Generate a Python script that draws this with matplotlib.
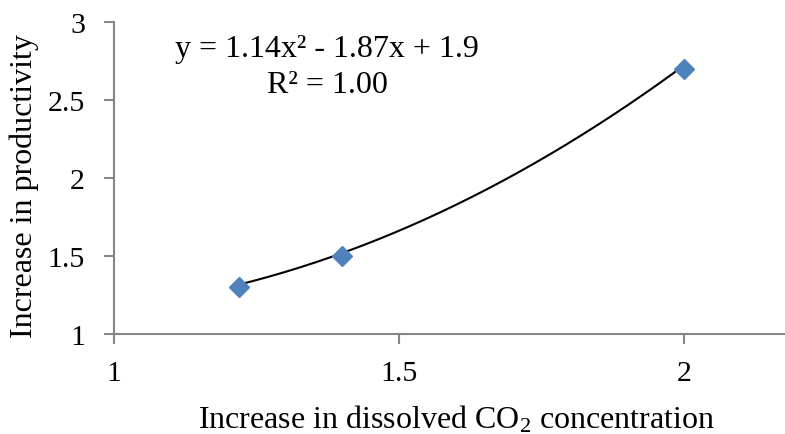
import matplotlib
matplotlib.use('Agg')
import matplotlib.pyplot as plt
import numpy as np

plt.rcParams['font.family'] = ['Liberation Serif', 'DejaVu Serif']
plt.rcParams['mathtext.fontset'] = 'custom'
plt.rcParams['mathtext.rm'] = 'Liberation Serif'
plt.rcParams['mathtext.it'] = 'Liberation Serif:italic'

# measured points
co2_increase = [1.22, 1.4, 2.0]
productivity_increase = [1.3, 1.5, 2.7]

# polynomial trendline coefficients (a, b, c) for y = a x^2 + b x + c
trend_coef = [1.14, -1.87, 1.9]

axis_grey = '#868686'

fig = plt.figure(figsize=(7.85, 4.35), dpi=100)
ax = fig.add_axes([0.1452, 0.2306, 0.8548, 0.7172])

xs = np.linspace(min(co2_increase), max(co2_increase), 200)
ax.plot(xs, np.polyval(trend_coef, xs), color='black', lw=1.5, zorder=2)
ax.plot(co2_increase, productivity_increase, linestyle='none', marker='D',
        markersize=10.5, color='#4F81BD', markeredgecolor='#4F81BD', zorder=3)

ax.set_xlim(1, 2.177)
ax.set_ylim(1, 3)
ax.set_xticks([1, 1.5, 2])
ax.set_xticklabels(['1', '1.5', '2'])
ax.set_yticks([1, 1.5, 2, 2.5, 3])
ax.set_yticklabels(['1', '1.5', '2', '2.5', '3'])

for side in ['top', 'right']:
    ax.spines[side].set_visible(False)
for side in ['left', 'bottom']:
    ax.spines[side].set_color(axis_grey)
    ax.spines[side].set_linewidth(1.5)

ax.tick_params(axis='both', direction='out', length=7, width=1.5,
               color=axis_grey, labelsize=21.5, labelcolor='black')
ax.tick_params(axis='x', pad=12)
ax.tick_params(axis='y', pad=14)

ax.set_xlabel('Increase in dissolved CO$_2$ concentration', fontsize=23)
ax.xaxis.set_label_coords(0.51, -0.222)
ax.set_ylabel('Increase in productivity', fontsize=23)
ax.yaxis.set_label_coords(-0.112, 0.477)

# trendline equation, two centred lines
ax.text(326.5 / 785, 1 - 57 / 435, 'y = 1.14x\u00b2 - 1.87x + 1.9',
        transform=fig.transFigure, ha='center', va='baseline', fontsize=23)
ax.text(327 / 785, 1 - 93 / 435, 'R\u00b2 = 1.00',
        transform=fig.transFigure, ha='center', va='baseline', fontsize=23)

fig.savefig('out.png', dpi=100)
